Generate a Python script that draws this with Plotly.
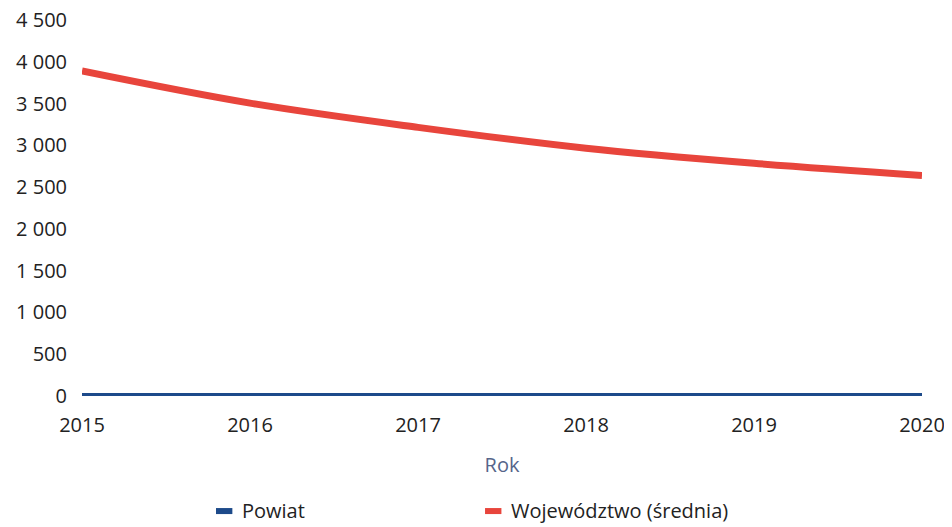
import plotly.graph_objects as go

years = [2015, 2016, 2017, 2018, 2019, 2020]
powiat = [5, 5, 5, 5, 5, 5]
wojewodztwo = [3890, 3505, 3215, 2965, 2785, 2640]

y_ticks = [0, 500, 1000, 1500, 2000, 2500, 3000, 3500, 4000, 4500]
y_labels = ['0', '500', '1 000', '1 500', '2 000', '2 500', '3 000', '3 500', '4 000', '4 500']

series_names = ['Powiat', 'Województwo (średnia)']
series_colors = ['#1d4a8a', '#e8453c']

fig = go.Figure()
fig.add_trace(go.Scatter(
    x=years, y=powiat, name=series_names[0], mode='lines',
    line=dict(color=series_colors[0], width=5),
))
fig.add_trace(go.Scatter(
    x=years, y=wojewodztwo, name=series_names[1], mode='lines',
    line=dict(color=series_colors[1], width=7, shape='spline'),
))

# legend drawn by hand: short flat swatches like in the source chart
legend_x = [0.1595, 0.4798]
for name, color, lx in zip(series_names, series_colors, legend_x):
    fig.add_shape(type='rect', xref='paper', yref='paper',
                  x0=lx, x1=lx + 0.0195, y0=-0.298, y1=-0.314,
                  fillcolor=color, line=dict(width=0))
    fig.add_annotation(xref='paper', yref='paper', x=lx + 0.028, y=-0.304,
                       text=name, showarrow=False, xanchor='left', yanchor='middle',
                       font=dict(size=20, color='#222222'))

# the page body adds an 8px margin, so the figure is a bit smaller than the window
fig.update_layout(
    width=944, height=519,
    margin=dict(l=74, r=30, t=12, b=131),
    paper_bgcolor='white', plot_bgcolor='white',
    font=dict(family='Open Sans', size=20, color='#222222'),
    showlegend=False,
    xaxis=dict(
        range=[2015, 2020], tickmode='array', tickvals=years,
        showgrid=False, zeroline=False, showline=False, ticks='',
        ticklabelstandoff=15, automargin=False, ticklabeloverflow='allow',
        title=dict(text='Rok', font=dict(size=20, color='#56658a'), standoff=20),
    ),
    yaxis=dict(
        range=[0, 4500], tickmode='array', tickvals=y_ticks, ticktext=y_labels,
        showgrid=False, zeroline=False, showline=False, ticks='',
        ticklabelstandoff=14, automargin=False, ticklabeloverflow='allow',
    ),
)

fig.write_html("out.html")
